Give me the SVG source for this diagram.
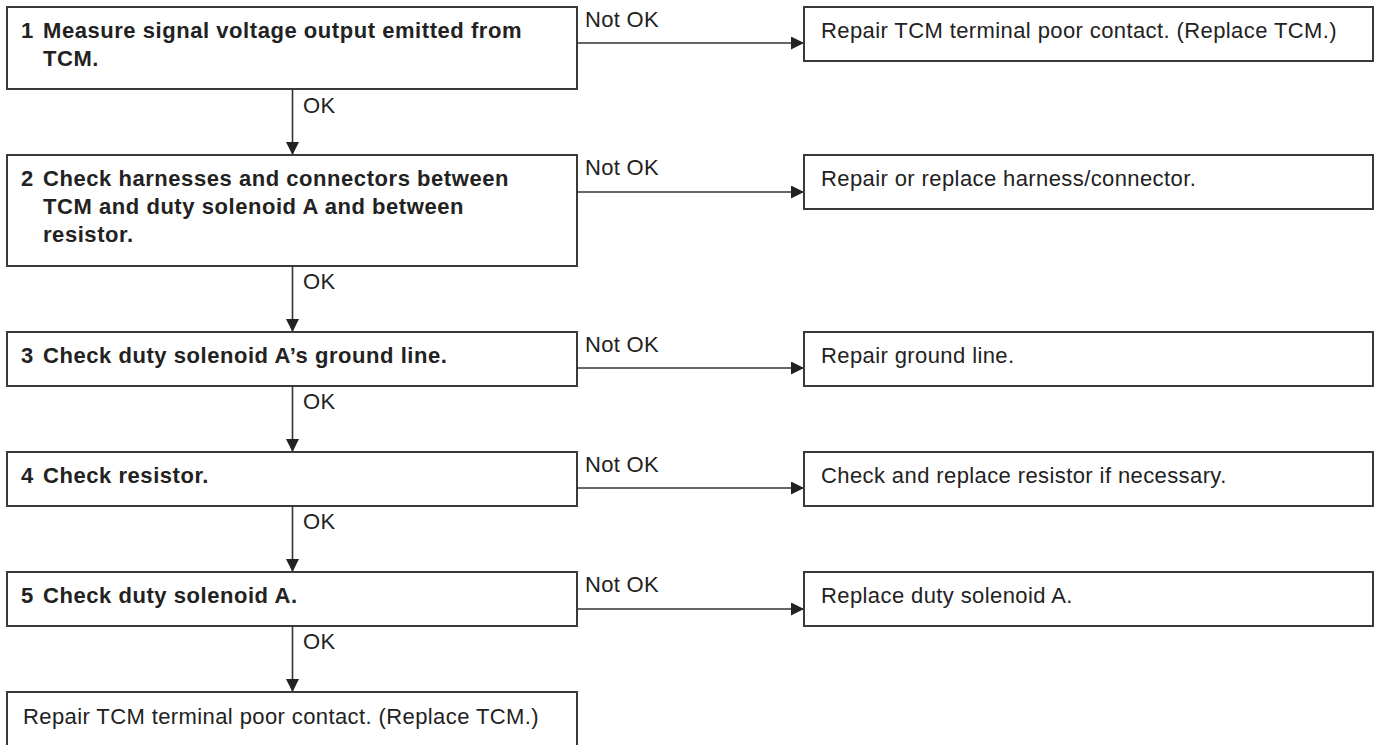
<svg xmlns="http://www.w3.org/2000/svg" width="1375" height="745" viewBox="0 0 1375 745">
<style>
.box{fill:#fff;stroke:#3a3a3a;stroke-width:2}
.step{font-family:"Liberation Sans",Arial,sans-serif;font-weight:bold;font-size:22px;letter-spacing:0.55px;fill:#222}
.act{font-family:"Liberation Sans",Arial,sans-serif;font-size:22px;letter-spacing:0.4px;fill:#222}
.lbl{font-family:"Liberation Sans",Arial,sans-serif;font-size:22px;letter-spacing:0.3px;fill:#222}
.con{fill:none;stroke:#333;stroke-width:1.6}
</style>
<defs>
<marker id="arr" markerWidth="13" markerHeight="13" refX="13" refY="6.5" orient="auto" markerUnits="userSpaceOnUse">
<path d="M0,0 L13,6.5 L0,13 Z" fill="#222"/>
</marker>
</defs>
<rect width="1375" height="745" fill="#fff"/>

<g id="connectors">
<line class="con" x1="292.5" y1="89" x2="292.5" y2="155" marker-end="url(#arr)"/>
<line class="con" x1="292.5" y1="266" x2="292.5" y2="332" marker-end="url(#arr)"/>
<line class="con" x1="292.5" y1="386" x2="292.5" y2="452" marker-end="url(#arr)"/>
<line class="con" x1="292.5" y1="506" x2="292.5" y2="572" marker-end="url(#arr)"/>
<line class="con" x1="292.5" y1="626" x2="292.5" y2="692" marker-end="url(#arr)"/>
<line class="con" x1="577" y1="43" x2="804" y2="43" marker-end="url(#arr)"/>
<line class="con" x1="577" y1="192" x2="804" y2="192" marker-end="url(#arr)"/>
<line class="con" x1="577" y1="368" x2="804" y2="368" marker-end="url(#arr)"/>
<line class="con" x1="577" y1="488" x2="804" y2="488" marker-end="url(#arr)"/>
<line class="con" x1="577" y1="609" x2="804" y2="609" marker-end="url(#arr)"/>
<text class="lbl" x="303" y="113">OK</text>
<text class="lbl" x="303" y="289">OK</text>
<text class="lbl" x="303" y="409">OK</text>
<text class="lbl" x="303" y="529">OK</text>
<text class="lbl" x="303" y="649">OK</text>
<text class="lbl" x="585" y="27">Not OK</text>
<text class="lbl" x="585" y="175">Not OK</text>
<text class="lbl" x="585" y="352">Not OK</text>
<text class="lbl" x="585" y="472">Not OK</text>
<text class="lbl" x="585" y="592">Not OK</text>
</g>

<g id="step1">
<rect class="box" x="7" y="7" width="570" height="82"/>
<text class="step" x="21" y="38">1</text>
<text class="step" x="43" y="38">Measure signal voltage output emitted from</text>
<text class="step" x="43" y="66">TCM.</text>
</g>
<g id="step2">
<rect class="box" x="7" y="155" width="570" height="111"/>
<text class="step" x="21" y="186">2</text>
<text class="step" x="43" y="186">Check harnesses and connectors between</text>
<text class="step" x="43" y="214">TCM and duty solenoid A and between</text>
<text class="step" x="43" y="242">resistor.</text>
</g>
<g id="step3">
<rect class="box" x="7" y="332" width="570" height="54"/>
<text class="step" x="21" y="363">3</text>
<text class="step" x="43" y="363">Check duty solenoid A’s ground line.</text>
</g>
<g id="step4">
<rect class="box" x="7" y="452" width="570" height="54"/>
<text class="step" x="21" y="483">4</text>
<text class="step" x="43" y="483">Check resistor.</text>
</g>
<g id="step5">
<rect class="box" x="7" y="572" width="570" height="54"/>
<text class="step" x="21" y="603">5</text>
<text class="step" x="43" y="603">Check duty solenoid A.</text>
</g>
<g id="final">
<path class="box" d="M7,746 V692 H577 V746"/>
<text class="act" x="23" y="724">Repair TCM terminal poor contact. (Replace TCM.)</text>
</g>

<g id="fix1">
<rect class="box" x="804" y="7" width="569" height="54"/>
<text class="act" x="821" y="38">Repair TCM terminal poor contact. (Replace TCM.)</text>
</g>
<g id="fix2">
<rect class="box" x="804" y="155" width="569" height="54"/>
<text class="act" x="821" y="186">Repair or replace harness/connector.</text>
</g>
<g id="fix3">
<rect class="box" x="804" y="332" width="569" height="54"/>
<text class="act" x="821" y="363">Repair ground line.</text>
</g>
<g id="fix4">
<rect class="box" x="804" y="452" width="569" height="54"/>
<text class="act" x="821" y="483">Check and replace resistor if necessary.</text>
</g>
<g id="fix5">
<rect class="box" x="804" y="572" width="569" height="54"/>
<text class="act" x="821" y="603">Replace duty solenoid A.</text>
</g>
</svg>
